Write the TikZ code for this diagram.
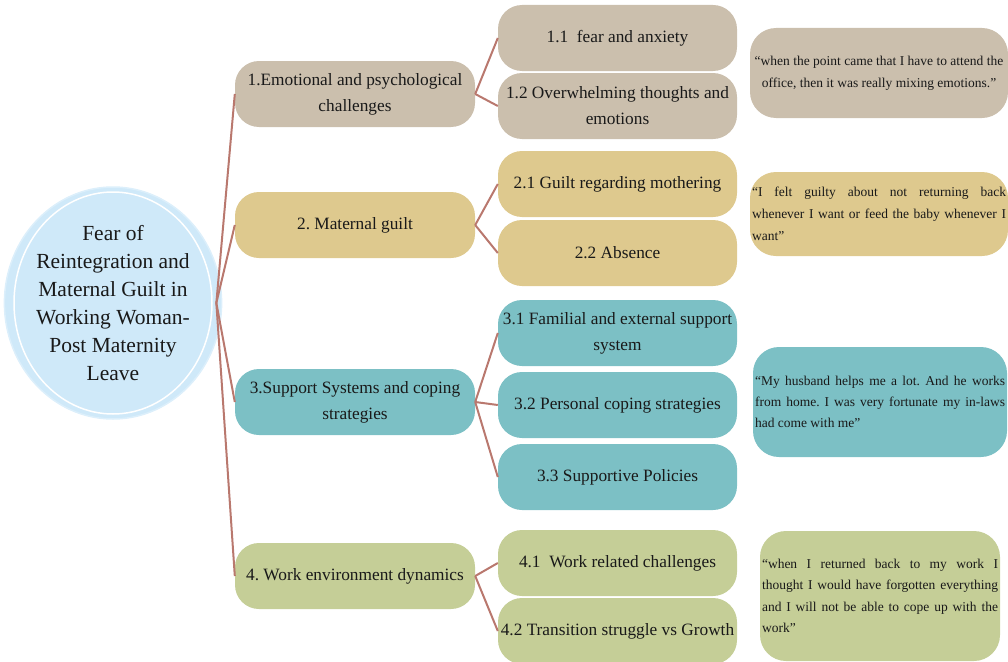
\documentclass[tikz,border=0pt]{standalone}
\usepackage{fontspec}
\setmainfont{Liberation Serif}
\usetikzlibrary{shapes.geometric}
\definecolor{cA}{RGB}{203,191,173}
\definecolor{cB}{RGB}{222,201,142}
\definecolor{cC}{RGB}{124,192,197}
\definecolor{cD}{RGB}{197,206,151}
\definecolor{circfill}{RGB}{207,233,249}
\definecolor{circedge}{RGB}{220,239,251}
\definecolor{link}{RGB}{185,120,110}
\definecolor{txt}{RGB}{25,25,25}
\tikzset{
  pill/.style={rounded corners=24pt, inner sep=0pt, minimum height=66pt, align=center, text=txt,
    font=\fontsize{17.3}{26}\selectfont},
  lvlone/.style={pill, minimum width=240pt},
  lvltwo/.style={pill, minimum width=239pt},
  quote/.style={rounded corners=26pt, inner sep=2pt, text=txt,
    font=\fontsize{13.5}{22}\selectfont},
  link/.style={draw=link, line width=2pt}
}
\tolerance=10000
\hyphenpenalty=10000
\exhyphenpenalty=10000
\frenchspacing
\begin{document}
\begin{tikzpicture}[x=1pt,y=-1pt]
\useasboundingbox (0,0) rectangle (1008,661);
\clip (0,0) rectangle (1008,661);

% central ellipse
\node[ellipse, minimum width=208pt, minimum height=232pt, inner sep=0pt, fill=circfill, draw=circedge,
  line width=1.5pt, align=center, text=txt, font=\fontsize{21.5}{28}\selectfont] (c) at (113,303)
  {Fear of\\Reintegration and\\Maternal Guilt in\\Working Woman-\\Post Maternity\\Leave};
\draw[white, line width=1.5pt] (113,303) ellipse [x radius=99pt, y radius=111pt];
\coordinate (hub) at ([xshift=-6pt]c.east);

% level one
\node[lvlone, fill=cA] (n1) at (355,94) {1.Emotional and psychological\\challenges};
\node[lvlone, fill=cB] (n2) at (355,225) {2. Maternal guilt};
\node[lvlone, fill=cC] (n3) at (355,402) {3.Support Systems and coping\\strategies};
\node[lvlone, fill=cD] (n4) at (355,576) {4. Work environment dynamics};

% level two
\node[lvltwo, fill=cA] (n11) at (617.5,38) {1.1\ \ fear and anxiety};
\node[lvltwo, fill=cA] (n12) at (617.5,106) {1.2 Overwhelming thoughts and\\emotions};
\node[lvltwo, fill=cB] (n21) at (617.5,184) {2.1 Guilt regarding mothering};
\node[lvltwo, fill=cB] (n22) at (617.5,253) {2.2 Absence};
\node[lvltwo, fill=cC] (n31) at (617.5,333) {3.1 Familial and external support\\system};
\node[lvltwo, fill=cC] (n32) at (617.5,405) {3.2 Personal coping strategies};
\node[lvltwo, fill=cC] (n33) at (617.5,477) {3.3 Supportive Policies};
\node[lvltwo, fill=cD] (n41) at (617.5,563) {4.1\ \ Work related challenges};
\node[lvltwo, fill=cD] (n42) at (617.5,631) {4.2 Transition struggle vs Growth};

% quotes
\node[quote, fill=cA, minimum width=258pt, minimum height=90pt, align=center] (q1) at (879,73)
  {“when the point came that I have to attend the\\office, then it was really mixing emotions.”};
\node[quote, fill=cB, minimum width=258pt, minimum height=84pt, text width=254pt, align=justify] (q2) at (879,214)
  {“I felt guilty about not returning back\linebreak whenever I want or feed the baby whenever I\linebreak want”};
\node[quote, fill=cC, minimum width=254pt, minimum height=110pt, text width=250pt, align=justify,
  font=\fontsize{13.5}{21}\selectfont] (q3) at (880,402)
  {“My husband helps me a lot. And he works\linebreak from home. I was very fortunate my in-laws\linebreak had come with me”};
\node[quote, fill=cD, minimum width=240pt, minimum height=130pt, text width=236pt, align=justify,
  font=\fontsize{13.5}{21.3}\selectfont] (q4) at (880,596)
  {“when I returned back to my work I\linebreak thought I would have forgotten everything\linebreak and I will not be able to cope up with the\linebreak work”};

% connectors
\foreach \n in {n1,n2,n3,n4} \draw[link] (hub) -- (\n.west);
\draw[link] (n1.east) -- (n11.west);
\draw[link] (n1.east) -- (n12.west);
\draw[link] (n2.east) -- (n21.west);
\draw[link] (n2.east) -- (n22.west);
\draw[link] (n3.east) -- (n31.west);
\draw[link] (n3.east) -- (n32.west);
\draw[link] (n3.east) -- (n33.west);
\draw[link] (n4.east) -- (n41.west);
\draw[link] (n4.east) -- (n42.west);
\end{tikzpicture}
\end{document}
